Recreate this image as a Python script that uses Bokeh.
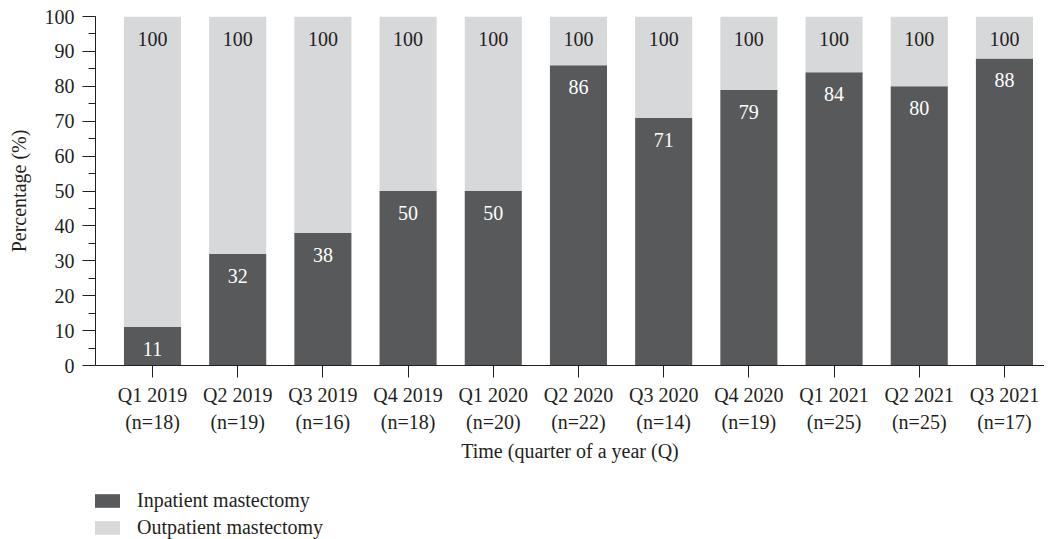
from bokeh.plotting import figure
from bokeh.layouts import column
from bokeh.models import (ColumnDataSource, Range1d, FixedTicker, SingleIntervalTicker,
                          LinearAxis, Legend, LegendItem)
from bokeh.core.properties import value
from bokeh.embed import file_html
from bokeh.resources import INLINE

quarters = ["Q1 2019", "Q2 2019", "Q3 2019", "Q4 2019", "Q1 2020", "Q2 2020",
            "Q3 2020", "Q4 2020", "Q1 2021", "Q2 2021", "Q3 2021"]
n_labels = ["(n=18)", "(n=19)", "(n=16)", "(n=18)", "(n=20)", "(n=22)",
            "(n=14)", "(n=19)", "(n=25)", "(n=25)", "(n=17)"]
inpatient = [11, 32, 38, 50, 50, 86, 71, 79, 84, 80, 88]
total = [100] * 11
outpatient = [t - i for t, i in zip(total, inpatient)]
series_names = ["Inpatient mastectomy", "Outpatient mastectomy"]

FONT = "Liberation Serif"
TXT = "#231f20"
DARK = "#58595b"
LIGHT = "#d7d8da"
FS = "20px"

idx = list(range(len(quarters)))
src = ColumnDataSource(dict(x=idx, inpatient=inpatient, outpatient=outpatient,
                            total=total,
                            in_lbl=[str(v) for v in inpatient],
                            tot_lbl=[str(v) for v in total]))

p = figure(width=1044, height=464, output_backend="svg", toolbar_location=None,
           x_range=Range1d(-0.669, 10.47), y_range=Range1d(0, 100),
           min_border_left=95, min_border_top=16, min_border_right=0,
           min_border_bottom=0)
p.outline_line_color = None
p.grid.visible = False
p.background_fill_color = "white"

r = p.vbar_stack(["inpatient", "outpatient"], x="x", width=0.67, source=src,
                 color=[DARK, LIGHT], line_color=None)

p.text(x="x", y="total", text="tot_lbl", source=src, text_align="center",
       text_baseline="middle", y_offset=22, text_color=TXT,
       text_font=value(FONT), text_font_size=FS)
p.text(x="x", y="inpatient", text="in_lbl", source=src, text_align="center",
       text_baseline="middle", y_offset=22, text_color="white",
       text_font=value(FONT), text_font_size=FS)

# y axis
ya = p.yaxis[0]
ya.ticker = SingleIntervalTicker(interval=10, num_minor_ticks=2)
ya.axis_label = "Percentage (%)"
ya.axis_label_text_font = FONT
ya.axis_label_text_font_style = "normal"
ya.axis_label_text_font_size = FS
ya.axis_label_text_color = TXT
ya.axis_label_standoff = 12
ya.major_label_text_font = FONT
ya.major_label_text_font_size = FS
ya.major_label_text_color = TXT
ya.major_label_standoff = 8
ya.major_tick_out = 13
ya.major_tick_in = 0
ya.minor_tick_out = 7
ya.minor_tick_in = 0
ya.axis_line_color = TXT
ya.major_tick_line_color = TXT
ya.minor_tick_line_color = TXT

# x axis: quarter labels
xa = p.xaxis[0]
xa.ticker = FixedTicker(ticks=idx)
xa.major_label_overrides = {i: q for i, q in zip(idx, quarters)}
xa.major_label_text_font = FONT
xa.major_label_text_font_size = FS
xa.major_label_text_color = TXT
xa.major_label_standoff = 6
xa.major_tick_out = 12
xa.major_tick_in = 0
xa.minor_tick_line_color = None
xa.axis_line_color = TXT
xa.major_tick_line_color = TXT

# second x axis: sample sizes + title
xa2 = LinearAxis(ticker=FixedTicker(ticks=idx),
                 major_label_overrides={i: n for i, n in zip(idx, n_labels)})
xa2.axis_line_color = None
xa2.major_tick_line_color = None
xa2.minor_tick_line_color = None
xa2.major_tick_out = 0
xa2.major_tick_in = 0
xa2.major_label_standoff = 2
xa2.major_label_text_font = FONT
xa2.major_label_text_font_size = FS
xa2.major_label_text_color = TXT
xa2.axis_label = "Time (quarter of a year (Q)"
xa2.axis_label_text_font = FONT
xa2.axis_label_text_font_style = "normal"
xa2.axis_label_text_font_size = FS
xa2.axis_label_text_color = TXT
xa2.axis_label_standoff = 4
p.add_layout(xa2, "below")

# legend in its own small figure below the chart
lf = figure(width=1044, height=75, output_backend="svg", toolbar_location=None,
            x_range=Range1d(0, 1), y_range=Range1d(0, 1),
            x_axis_type=None, y_axis_type=None,
            min_border_left=95, min_border_top=25, min_border_right=0,
            min_border_bottom=0)
lf.grid.visible = False
lf.outline_line_color = None
d1 = lf.vbar(x=[0.5], top=[0], bottom=[0], width=0.0, fill_color=DARK, line_color=None)
d2 = lf.vbar(x=[0.5], top=[0], bottom=[0], width=0.0, fill_color=LIGHT, line_color=None)
legend = Legend(items=[LegendItem(label=series_names[0], renderers=[d1]),
                       LegendItem(label=series_names[1], renderers=[d2])],
                location=(-7, 0), orientation="vertical")
legend.glyph_width = 35
legend.glyph_height = 17
legend.label_height = 17
legend.spacing = 4
legend.padding = 0
legend.margin = 0
legend.label_standoff = 14
legend.label_text_font = FONT
legend.label_text_font_size = FS
legend.label_text_color = TXT
legend.label_text_baseline = "middle"
legend.border_line_color = None
legend.background_fill_alpha = 0
lf.add_layout(legend)

layout = column(p, lf, spacing=0)
open("out.html", "w").write(file_html(layout, INLINE))
